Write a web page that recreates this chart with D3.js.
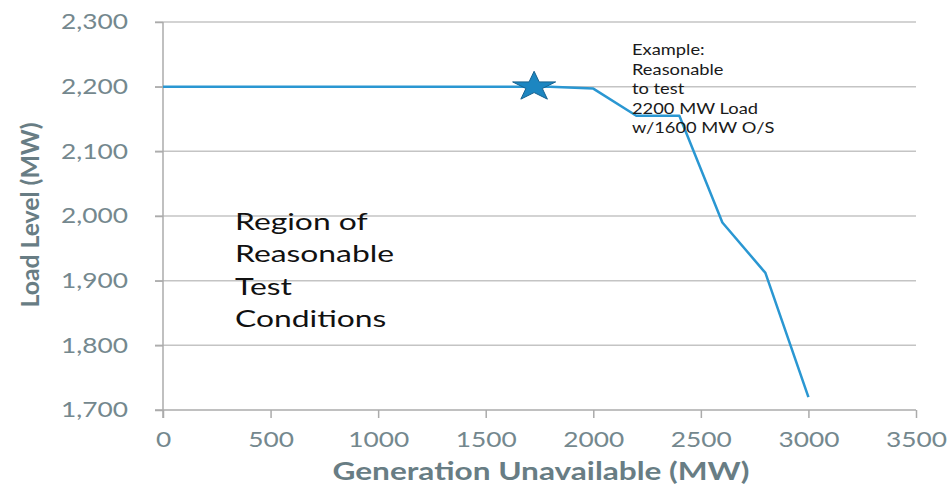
<!DOCTYPE html>
<html><head><meta charset="utf-8">
<script src="https://cdn.jsdelivr.net/npm/d3@7"></script>
<style>body{margin:0;background:#fff}svg{display:block}</style>
</head><body>
<svg id="c" width="947" height="487"></svg>
<script>
const genUnavailable = [0, 1800, 2000, 2200, 2400, 2600, 2800, 3000];
const loadLevel = [2200, 2200, 2197, 2155, 2155, 1990, 1912, 1720];
const starPoint = {x: 1725, y: 2200};
const xTicks = [0, 500, 1000, 1500, 2000, 2500, 3000, 3500];
const yTicks = [1700, 1800, 1900, 2000, 2100, 2200, 2300];
const regionLines = ["Region of", "Reasonable", "Test", "Conditions"];
const exampleLines = ["Example:", "Reasonable", "to test", "2200 MW Load", "w/1600 MW O/S"];

const svg = d3.select("#c");
const FONT = "Lato, 'Open Sans', sans-serif";
const x = d3.scaleLinear().domain([0, 3500]).range([163, 916]);
const y = d3.scaleLinear().domain([1700, 2300]).range([410, 22]);

function stretch(sel, k) {
  sel.each(function () {
    const w = this.getComputedTextLength();
    this.setAttribute("textLength", w * k);
    this.setAttribute("lengthAdjust", "spacingAndGlyphs");
  });
}

// gridlines
svg.append("g").selectAll("line").data(yTicks.filter(d => d > 1700)).join("line")
  .attr("x1", 155).attr("x2", 916).attr("y1", d => y(d)).attr("y2", d => y(d))
  .attr("stroke", "#c4c4c4").attr("stroke-width", 1.5);

// y axis
const yAxis = svg.append("g").attr("transform", `translate(${x(0)},0)`)
  .call(d3.axisLeft(y).tickValues(yTicks).tickFormat(d3.format(",")).tickSize(8).tickPadding(27));
yAxis.select(".domain").attr("stroke", "#ababab").attr("stroke-width", 1.5).attr("d", `M0,${y(2300)}V418`);
yAxis.selectAll(".tick line").attr("stroke", "#ababab").attr("stroke-width", 1.5);
yAxis.selectAll(".tick text").attr("fill", "#74888e").style("font-family", FONT).style("font-size", "21px");

// x axis
const xAxis = svg.append("g").attr("transform", `translate(0,${y(1700)})`)
  .call(d3.axisBottom(x).tickValues(xTicks).tickFormat(d3.format("d")).tickSize(8).tickPadding(14));
xAxis.select(".domain").attr("stroke", "#ababab").attr("stroke-width", 1.5).attr("d", `M155,0H916`);
xAxis.selectAll(".tick line").attr("stroke", "#ababab").attr("stroke-width", 1.5);
xAxis.selectAll(".tick text").attr("fill", "#74888e").style("font-family", FONT).style("font-size", "21px");

// line
const line = d3.line().x(d => x(d[0])).y(d => y(d[1]));
svg.append("path").datum(genUnavailable.map((g, i) => [g, loadLevel[i]]))
  .attr("d", line).attr("fill", "none").attr("stroke", "#2a97d2").attr("stroke-width", 2.5)
  .attr("stroke-linejoin", "round");

// star
function starPath(rx, ry) {
  const pts = [];
  for (let i = 0; i < 10; i++) {
    const r = i % 2 === 0 ? 1 : 0.382;
    const a = -Math.PI / 2 + i * Math.PI / 5;
    pts.push([Math.cos(a) * r * rx, Math.sin(a) * r * ry]);
  }
  return "M" + pts.map(p => p.join(",")).join("L") + "Z";
}
svg.append("path").attr("d", starPath(22.6, 15.4))
  .attr("transform", `translate(${x(starPoint.x)},${y(starPoint.y)})`)
  .attr("fill", "#1c86c1").attr("stroke", "#17628f").attr("stroke-width", 1);

// region text
const reg = svg.append("g").selectAll("text").data(regionLines).join("text")
  .attr("x", 235).attr("y", (d, i) => 230 + i * 32.3).text(d => d)
  .attr("fill", "#111").style("font-family", FONT).style("font-size", "23px");

// example annotation
const ex = svg.append("g").selectAll("text").data(exampleLines).join("text")
  .attr("x", 632).attr("y", (d, i) => 55 + i * 19.6).text(d => d)
  .attr("fill", "#1a1a1a").style("font-family", FONT).style("font-size", "15px");

// titles
const xt = svg.append("text").attr("x", 541).attr("y", 480).attr("text-anchor", "middle")
  .text("Generation Unavailable (MW)").attr("fill", "#687d84")
  .style("font-family", FONT).style("font-size", "24px").style("font-weight", "bold");
const yt = svg.append("text").attr("transform", "translate(39,215) rotate(-90)").attr("text-anchor", "middle")
  .text("Load Level (MW)").attr("fill", "#687d84")
  .style("font-family", FONT).style("font-size", "24px").style("font-weight", "bold");

// apply horizontal stretch to mimic reference
const yt0 = yAxis.select(".tick text").node().getComputedTextLength();
stretch(yAxis.selectAll(".tick text"), 67 / yt0);
stretch(xAxis.selectAll(".tick text"), 67 / yt0);
const regW = reg.filter(d => d === "Reasonable").node().getComputedTextLength();
stretch(reg, 159 / regW);
const exW = ex.filter(d => d === "2200 MW Load").node().getComputedTextLength();
stretch(ex, 126 / exW);
xt.attr("textLength", 417).attr("lengthAdjust", "spacingAndGlyphs");
yt.attr("textLength", 185).attr("lengthAdjust", "spacingAndGlyphs");
</script>
</body></html>
